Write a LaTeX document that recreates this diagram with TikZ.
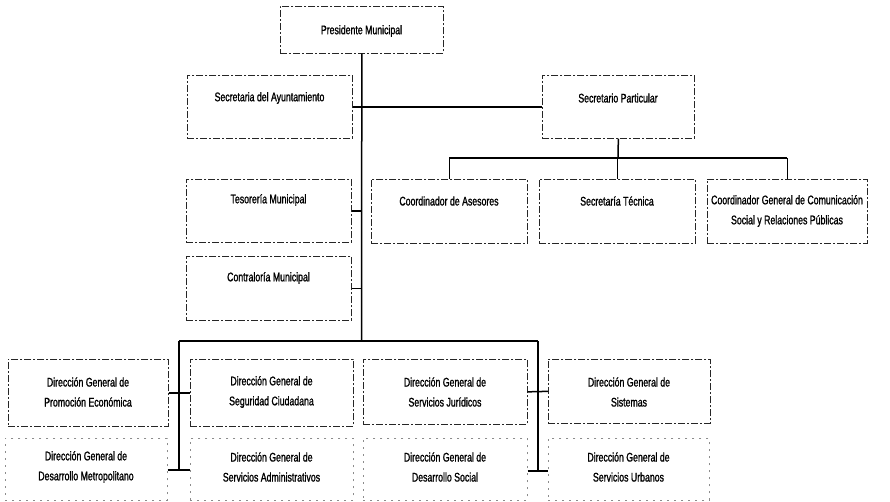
\documentclass[tikz,border=0pt]{standalone}
\usepackage{fontspec}
\setmainfont{Liberation Sans}[FakeStretch=0.7, FakeBold=1.2]
\begin{document}
\begin{tikzpicture}[x=1pt,y=-1pt,
  box/.style={draw=black!85, line width=0.7pt, dash pattern=on 7pt off 2pt on 2pt off 2pt, anchor=north west, inner sep=0pt},
  fbox/.style={draw=black!45, line width=0.6pt, dash pattern=on 2pt off 5pt, anchor=north west, inner sep=0pt},
  txt/.style={font=\fontsize{12.5}{20}\selectfont, align=center, inner sep=0pt},
  conn/.style={line width=1.5pt}]
\useasboundingbox (0,0) rectangle (890,502);
% boxes
\node[box, minimum width=163pt, minimum height=47pt] (pres) at (280,6) {};
\node[box, minimum width=165pt, minimum height=63pt] (ayunt) at (187,75) {};
\node[box, minimum width=152pt, minimum height=63pt] (secpart) at (542,75) {};
\node[box, minimum width=165pt, minimum height=63pt] (teso) at (186,179) {};
\node[box, minimum width=165pt, minimum height=64pt] (contra) at (186,256) {};
\node[box, minimum width=156pt, minimum height=64pt] (asesores) at (371,179) {};
\node[box, minimum width=156pt, minimum height=64pt] (tecnica) at (539,179) {};
\node[box, minimum width=160pt, minimum height=64pt] (comsoc) at (707,179) {};
\node[box, minimum width=160pt, minimum height=67pt] (promo) at (8,359) {};
\node[box, minimum width=163pt, minimum height=67pt] (segur) at (190,359) {};
\node[box, minimum width=164pt, minimum height=65pt] (jurid) at (363,359) {};
\node[box, minimum width=162pt, minimum height=64pt] (sist) at (548,359) {};
\node[fbox, minimum width=162pt, minimum height=62pt] (metro) at (5,438) {};
\node[fbox, minimum width=163pt, minimum height=62pt] (admin) at (190,438) {};
\node[fbox, minimum width=164pt, minimum height=62pt] (social) at (363,438) {};
\node[fbox, minimum width=161pt, minimum height=62pt] (urbanos) at (548,438) {};
% texts
\node[txt] (pres-t) at (361.5,31) {Presidente Municipal};
\node[txt] (ayunt-t) at (269.5,98) {Secretaria del Ayuntamiento};
\node[txt] (secpart-t) at (618,98) {Secretario Particular};
\node[txt] (teso-t) at (268.5,200) {Tesorer\'ia Municipal};
\node[txt] (contra-t) at (268.5,278) {Contralor\'ia Municipal};
\node[txt] (asesores-t) at (449,201) {Coordinador de Asesores};
\node[txt] (tecnica-t) at (617,201) {Secretar\'ia T\'ecnica};
\node[txt] (comsoc-t) at (787,211) {Coordinador General de Comunicaci\'on\\Social y Relaciones P\'ublicas};
\node[txt] (promo-t) at (88,392) {Direcci\'on General de\\Promoci\'on Econ\'omica};
\node[txt] (segur-t) at (271.5,392) {Direcci\'on General de\\Seguridad Ciudadana};
\node[txt] (jurid-t) at (445,392) {Direcci\'on General de\\Servicios Jur\'idicos};
\node[txt] (sist-t) at (629,392) {Direcci\'on General de\\Sistemas};
\node[txt] (metro-t) at (86,467) {Direcci\'on General de\\Desarrollo Metropolitano};
\node[txt] (admin-t) at (271.5,467) {Direcci\'on General de\\Servicios Administrativos};
\node[txt] (social-t) at (445,467) {Direcci\'on General de\\Desarrollo Social};
\node[txt] (urbanos-t) at (628.5,467) {Direcci\'on General de\\Servicios Urbanos};
% junctions
\coordinate (tb) at (361.5,341);
\coordinate (sb) at (618,158);
\coordinate (bl) at (179,341);
\coordinate (br) at (538,341);
\coordinate (bl2) at (179,470);
\coordinate (br2) at (538,471);
% connectors
\draw[conn] (pres.south) -- (tb);
\draw[conn] (ayunt.east) -- (secpart.west);
\draw[conn] (teso.east) -- (teso.east -| tb);
\draw[conn] (contra.east) -- (contra.east -| tb);
\draw[conn] (secpart.south) -- (sb);
\draw[conn] (asesores.north |- sb) -- (comsoc.north |- sb);
\draw[conn] (asesores.north |- sb) -- (asesores.north);
\draw[conn] (tecnica.north |- sb) -- (tecnica.north);
\draw[conn] (comsoc.north |- sb) -- (comsoc.north);
\draw[conn] (bl) -- (br);
\draw[conn] (bl) -- (bl2);
\draw[conn] (br) -- (br2);
\draw[conn] (promo.east) -- (segur.west);
\draw[conn] (jurid.east) -- (sist.west);
\draw[conn] (metro.east |- bl2) -- (admin.west |- bl2);
\draw[conn] (social.east |- br2) -- (urbanos.west |- br2);
\end{tikzpicture}
\end{document}
